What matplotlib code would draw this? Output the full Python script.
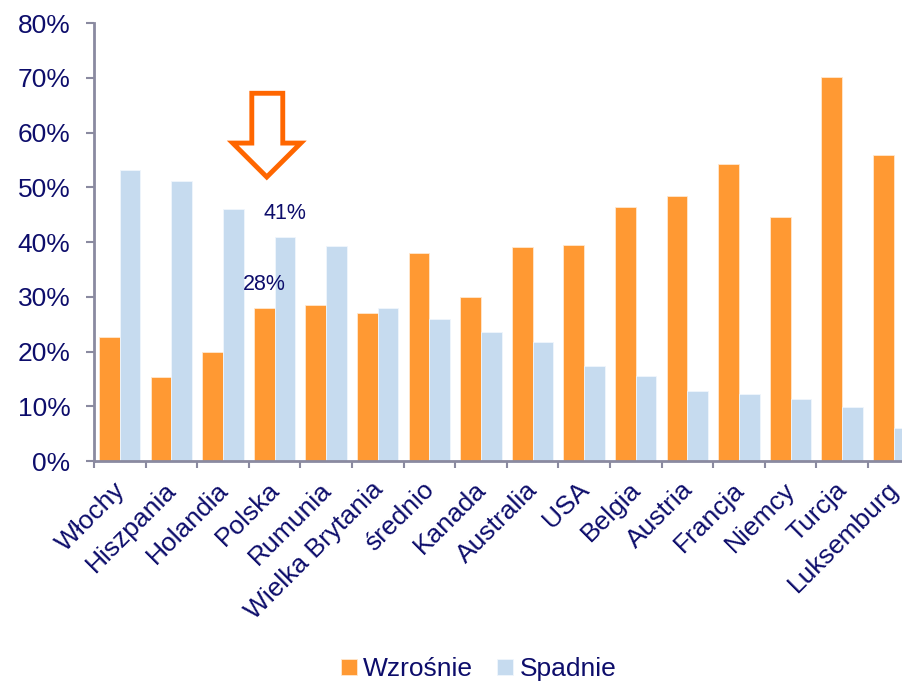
import numpy as np
import matplotlib.pyplot as plt
import matplotlib.transforms as mtransforms
from matplotlib.patches import Polygon
from matplotlib.ticker import PercentFormatter

countries = ['Włochy', 'Hiszpania', 'Holandia', 'Polska', 'Rumunia',
             'Wielka Brytania', 'średnio', 'Kanada', 'Australia', 'USA',
             'Belgia', 'Austria', 'Francja', 'Niemcy', 'Turcja', 'Luksemburg']
wzrosnie = [22.6, 15.3, 19.9, 28.0, 28.6, 27.0, 38.0, 30.0, 39.1, 39.4,
            46.4, 48.5, 54.3, 44.6, 70.1, 55.9]
spadnie = [53.2, 51.1, 46.1, 41.0, 39.3, 27.9, 25.9, 23.6, 21.7, 17.3,
           15.5, 12.8, 12.3, 11.3, 9.8, 6.1]
labels = {3: ('28%', '41%')}

orange = '#FF9933'
blue = '#C6DBEF'
navy = '#0D0D6B'
axis_gray = '#8A8AA0'

plt.rcParams['font.family'] = ['Liberation Sans', 'DejaVu Sans']

fig = plt.figure(figsize=(9.03, 6.83), dpi=100)
ax = fig.add_axes([0.104, 0.325, 0.896, 0.641])

x = np.arange(len(countries)) + 0.5
w = 0.4
b1 = ax.bar(x - w / 2, wzrosnie, w, color=orange, edgecolor='#FFE8D0',
            linewidth=0.6, label='Wzrośnie')
b2 = ax.bar(x + w / 2, spadnie, w, color=blue, edgecolor='#F0F6FC',
            linewidth=0.6, label='Spadnie')

for i, (t1, t2) in labels.items():
    ax.annotate(t1, (x[i] - w / 2, wzrosnie[i]), xytext=(0, 17),
                textcoords='offset points', ha='center', va='center',
                fontsize=15.5, color=navy)
    ax.annotate(t2, (x[i] + w / 2, spadnie[i]), xytext=(0, 17),
                textcoords='offset points', ha='center', va='center',
                fontsize=15.5, color=navy)

# outlined down arrow above Polska
arrow = Polygon([(3.06, 67.2), (3.66, 67.2), (3.66, 58.1), (4.01, 58.1),
                 (3.35, 51.9), (2.69, 58.1), (3.06, 58.1)], closed=True,
                facecolor='white', edgecolor='#FF6600', linewidth=3.5,
                joinstyle='miter', zorder=5)
ax.add_patch(arrow)

ax.set_yticks(np.arange(0, 81, 10))
ax.yaxis.set_major_formatter(PercentFormatter(decimals=0))

ax.set_xticks(np.arange(0, 17))
ax.set_xticklabels([])
ax.set_xticks(x, minor=True)
ax.set_xticklabels(countries, minor=True, rotation=45, ha='right',
                   rotation_mode='anchor', fontsize=19, color=navy)
ax.tick_params(axis='x', which='minor', length=0, pad=9)
ax.tick_params(axis='x', which='major', length=5, width=1.5, color=axis_gray)
ax.tick_params(axis='y', length=5.8, width=1.5, color=axis_gray,
               labelsize=19, labelcolor=navy, pad=11)
ax.set_xlim(0, 15.68)
ax.set_ylim(0, 80)

# nudge the rotated labels a little left and down
shift = mtransforms.ScaledTranslation(-0.07, -0.04, fig.dpi_scale_trans)
for lab in ax.get_xticklabels(minor=True):
    lab.set_transform(lab.get_transform() + shift)

for side in ['top', 'right']:
    ax.spines[side].set_visible(False)
for side in ['left', 'bottom']:
    ax.spines[side].set_color(axis_gray)
    ax.spines[side].set_linewidth(2)

fig.legend(handles=[b1, b2], loc='center', bbox_to_anchor=(0.53, 0.02),
           ncol=2, frameon=False, fontsize=19, labelcolor=navy,
           handlelength=0.6, handleheight=0.6, handletextpad=0.25,
           columnspacing=0.9)

fig.savefig('out.png', dpi=100)
